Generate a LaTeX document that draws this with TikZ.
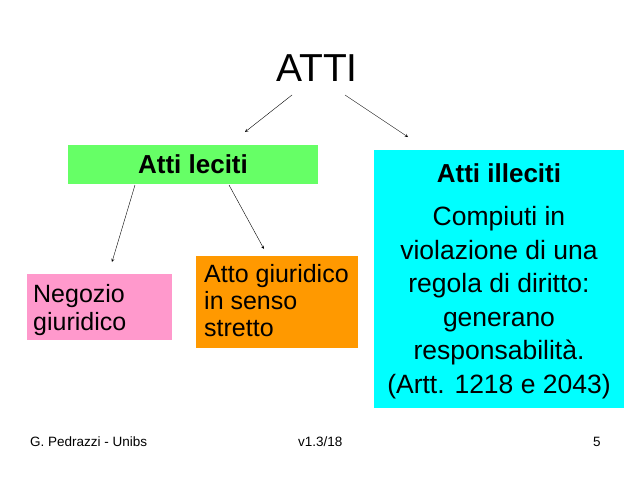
\documentclass[tikz,border=0pt]{standalone}
\usepackage{fontspec}
\setmainfont{Liberation Sans}
\definecolor{cy}{RGB}{0,255,255}
\definecolor{gr}{RGB}{102,255,102}
\definecolor{pk}{RGB}{255,153,204}
\definecolor{orr}{RGB}{255,153,0}
\begin{document}
\begin{tikzpicture}[x=1pt,y=-1pt,
  arr/.style={->,>=stealth,thin},
  big/.style={font=\fontsize{26.5}{33.5}\selectfont},
  foot/.style={font=\fontsize{13.5}{14}\selectfont,anchor=west,inner sep=0}]
\useasboundingbox (0,0) rectangle (638,479);
\fill[white] (0,0) rectangle (638,479);
\node[font=\fontsize{39}{40}\selectfont] (atti) at (317,68) {ATTI};
\node[fill=gr, minimum width=250, minimum height=39, inner sep=0,
  font=\fontsize{26}{30}\selectfont\bfseries] (lec) at (193,164.5) {Atti leciti};
\node[fill=cy, minimum width=250, minimum height=258, inner sep=0] (ill) at (499,279) {};
\node[font=\fontsize{26}{30}\selectfont\bfseries] (illt) at (499,173) {Atti illeciti};
\node[big, align=center, anchor=north] (illb) at (499,203) {Compiuti in\\violazione di una\\regola di diritto:\\generano\\responsabilità.\\(Artt. 1218 e 2043)};
\node[fill=pk, minimum width=145, minimum height=66, inner sep=0] (neg) at (99.5,307) {};
\node[font=\fontsize{25}{28}\selectfont, align=left, anchor=west, inner sep=0] (negt) at (33,310) {Negozio\\giuridico};
\node[fill=orr, minimum width=162, minimum height=92, inner sep=0] (ag) at (277,302) {};
\node[font=\fontsize{25}{27}\selectfont, align=left, anchor=west, inner sep=0] (agt) at (204,301) {Atto giuridico\\in senso\\stretto};
\coordinate (a1) at (292,95); \coordinate (b1) at (245,132);
\coordinate (a2) at (345,95); \coordinate (b2) at (408,137);
\coordinate (a3) at (135,185); \coordinate (b3) at (112,262);
\coordinate (a4) at (229,185); \coordinate (b4) at (264,249);
\draw[arr] (a1) -- (b1);
\draw[arr] (a2) -- (b2);
\draw[arr] (a3) -- (b3);
\draw[arr] (a4) -- (b4);
\node[foot] (f1) at (30,442) {G. Pedrazzi - Unibs};
\node[foot] (f2) at (298,442) {v1.3/18};
\node[foot] (f3) at (593,442) {5};
\end{tikzpicture}
\end{document}
